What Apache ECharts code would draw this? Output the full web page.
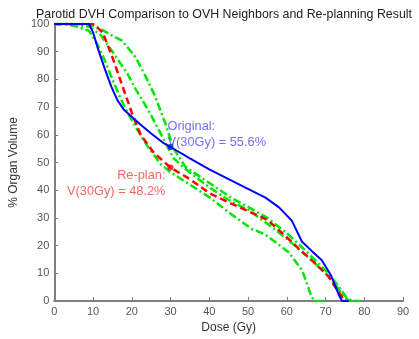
<!DOCTYPE html>
<html>
<head>
<meta charset="utf-8">
<script src="https://cdn.jsdelivr.net/npm/echarts@6/dist/echarts.min.js"></script>
<style>
  html, body { margin: 0; padding: 0; background: #fff; }
  #chart { width: 419px; height: 339px; }
</style>
</head>
<body>
<div id="chart"></div>
<script>
// DVH curves, [dose (Gy), % organ volume]
const originalDvh = [[0,100],[9,100],[10,97],[11.3,91],[13,84],[14.7,77.5],[16.3,72.5],[18,69],[20,66.5],[22,64],[25,60.5],[28,57.2],[30,55.6],[35,51.5],[40,47.5],[45,44],[50,40.5],[54.5,37.3],[58,33.8],[61.3,29],[63.9,21.5],[66.5,18],[69,14.8],[71.5,9],[73.5,2],[74.3,0],[76,0]]
const replanDvh = [[0,100],[10,100],[12.5,97],[15,88],[17.5,78],[20,68],[22.3,60],[25.7,53.5],[30,48.2],[35,44],[40,39],[45,35.6],[50,32.5],[55,29.3],[60,23],[63,19],[67,14],[70.7,9],[73,4],[75,0]]
const neighborA = [[0,100],[8,100],[11,99],[14,96.5],[17.5,94],[21,88],[23.6,81],[26,74],[28.7,64],[30.8,55],[33.8,48.5],[38,44.5],[46,37],[50,34],[55,30],[60,24.5],[65,18],[70,11],[73,6],[75.5,1],[77,0],[79,0]]
const neighborB = [[0,100],[5,100],[9,99],[12,96],[15.5,89],[18.9,82],[21,76.5],[23.2,71.4],[25,67],[27.4,60.6],[30.8,51.5],[34,47.5],[40,41],[46,35.6],[50,33],[54.5,28.4],[60,22.5],[65,16.5],[70,10],[73,5],[75,1],[76.5,0],[78,0]]
const neighborC = [[0,100],[3,100],[6,99],[9,97.5],[11,93],[13,87],[15,80],[17,73.5],[18.9,68],[21.4,62],[24,56],[27.4,49.5],[30,46.5],[35,42],[40,37.5],[46,31],[51,26],[54.5,24],[60.5,17.6],[64,11],[65,7],[66,3],[67,0],[70.5,0]]
const originalV30 = [30, 55.6]
const replanV30 = [30, 48.2]

const font = 'Liberation Sans, Arial, sans-serif'
const axisGray = '#808080'

const chart = echarts.init(document.getElementById('chart'))

const greenLine = data => ({
  type: 'line',
  data: data,
  showSymbol: false,
  z: 2,
  lineStyle: { color: '#00e600', width: 2.5, type: [8, 3, 2, 3] }
})

chart.setOption({
  animation: false,
  title: {
    text: 'Parotid DVH Comparison to OVH Neighbors and Re-planning Result',
    left: 31,
    top: 4,
    textStyle: { fontFamily: font, fontSize: 12.4, fontWeight: 'normal', color: '#222' }
  },
  grid: { left: 49, right: 16, top: 24, bottom: 37 },
  xAxis: {
    type: 'value',
    min: 0,
    max: 90,
    interval: 10,
    name: 'Dose (Gy)',
    nameLocation: 'middle',
    nameGap: 21,
    nameTextStyle: { fontFamily: font, fontSize: 12, color: '#333' },
    axisLine: { lineStyle: { color: axisGray, width: 2 } },
    axisTick: { inside: true, length: 4, lineStyle: { color: axisGray } },
    axisLabel: { fontFamily: font, fontSize: 11, color: '#555', margin: 5 },
    splitLine: { show: false }
  },
  yAxis: {
    type: 'value',
    min: 0,
    max: 100,
    interval: 10,
    name: '% Organ Volume',
    nameLocation: 'middle',
    nameGap: 25,
    nameTextStyle: { fontFamily: font, fontSize: 12, color: '#333' },
    axisLine: { show: true, lineStyle: { color: axisGray, width: 2 } },
    axisTick: { show: true, inside: true, length: 4, lineStyle: { color: axisGray } },
    axisLabel: { fontFamily: font, fontSize: 11, color: '#555', margin: 5 },
    splitLine: { show: false }
  },
  series: [
    greenLine(neighborA),
    greenLine(neighborB),
    greenLine(neighborC),
    {
      type: 'line',
      data: replanDvh,
      showSymbol: false,
      z: 3,
      lineStyle: { color: '#ff0000', width: 2.5, type: [7, 4] }
    },
    {
      type: 'line',
      data: originalDvh,
      showSymbol: false,
      z: 4,
      lineStyle: { color: '#0000ff', width: 2 }
    },
    {
      type: 'scatter',
      data: [originalV30],
      symbolSize: 6,
      z: 5,
      itemStyle: { color: '#0000ff' },
      label: {
        show: true,
        position: [0, 6],
        align: 'left',
        verticalAlign: 'bottom',
        fontFamily: font,
        fontSize: 12.8,
        lineHeight: 16,
        color: '#4a4af0',
        formatter: 'Original:\nV(30Gy) = 55.6%'
      }
    },
    {
      type: 'scatter',
      data: [replanV30],
      symbolSize: 6,
      z: 5,
      itemStyle: { color: '#ff0000' },
      label: {
        show: true,
        position: [-2, 3],
        align: 'right',
        verticalAlign: 'top',
        fontFamily: font,
        fontSize: 12.8,
        lineHeight: 16,
        color: '#f04040',
        formatter: 'Re-plan:\nV(30Gy) = 48.2%'
      }
    }
  ]
})
</script>
</body>
</html>
